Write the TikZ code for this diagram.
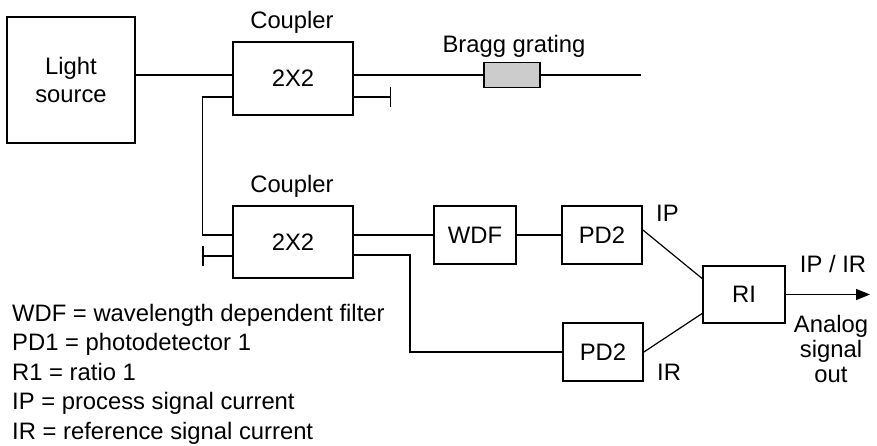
\documentclass[tikz,border=0pt]{standalone}
\usepackage{fontspec}
\setmainfont{Liberation Sans}
\usepackage{tikz}
\usetikzlibrary{arrows.meta,calc}

\begin{document}
\begin{tikzpicture}[
  x=1pt, y=-1pt,
  font=\fontsize{23.8}{28}\selectfont,
  box/.style={draw, line width=1.8pt, align=center, inner sep=0pt},
  grating/.style={draw, line width=1.8pt, fill=black!20, minimum width=56pt, minimum height=25pt, inner sep=0pt},
  wire/.style={line width=1.2pt},
  stub/.style={wire, -{Bar[width=20pt, line width=1.4pt]}},
  arr/.style={wire, -{Triangle[length=14pt, width=11pt]}},
  lbl/.style={inner sep=0pt, anchor=base},
  legend/.style={inner sep=0pt, anchor=base west}
]
\useasboundingbox (0,0) rectangle (877,446);
% source and couplers
\node[box, minimum width=128pt, minimum height=126pt] (src) at (71,80) {Light\\source};
\node[box, minimum width=120pt, minimum height=73pt] (cpl1) at (293,78.5) {2X2};
\node[box, minimum width=120pt, minimum height=72pt] (cpl2) at (293,242) {2X2};
\node[lbl] (cpl1lbl) at (292,29) {Coupler};
\node[lbl] (cpl2lbl) at (292,193) {Coupler};
% sensing fibre
\node[grating] (bragg) at (512,75) {};
\node[lbl] (bragglbl) at (514,53) {Bragg grating};
\coordinate (fibend) at (641,75);
% detection chain
\node[box, minimum width=82pt, minimum height=58pt] (wdf) at (475,235) {WDF};
\node[box, minimum width=80pt, minimum height=58pt] (pdp) at (602,235) {PD2};
\node[box, minimum width=80pt, minimum height=58pt] (pdr) at (603,352) {PD2};
\node[box, minimum width=82pt, minimum height=57pt] (ri) at (744,294.5) {RI};
\coordinate (out) at (870,294.5);
% signal labels
\node[legend] (iplbl) at (656,222) {IP};
\node[legend] (irlbl) at (657,380) {IR};
\node[lbl] (ratiolbl) at (833,272) {IP / IR};
\node[inner sep=0pt, anchor=north, align=center, font=\fontsize{23.8}{25}\selectfont] (outlbl) at (831,315) {Analog\\signal\\out};
% legend
\foreach \t [count=\i] in {{WDF = wavelength dependent filter},{PD1 = photodetector 1},{R1 = ratio 1},{IP = process signal current},{IR = reference signal current}}
  \node[legend] (leg\i) at (12,{291.5+29.5*\i}) {\t};
% connectors
\draw[wire] ([yshift=5pt]src.east) -- ([yshift=3.5pt]cpl1.west);
\draw[wire] ([yshift=-18.5pt]cpl1.west) -- ++(-30,0) |- ([yshift=7pt]cpl2.west);
\draw[wire] ([yshift=3.5pt]cpl1.east) -- (bragg.west);
\draw[wire] (bragg.east) -- (fibend);
\draw[stub] ([yshift=-18.5pt]cpl1.east) -- ++(37,0);
\draw[stub] ([yshift=-14pt]cpl2.west) -- ++(-30,0);
\draw[wire] ([yshift=7pt]cpl2.east) -- (wdf.west);
\draw[wire] (wdf) -- (pdp);
\draw[wire] ([yshift=-13pt]cpl2.east) -- ++(56,0) |- (pdr.west);
\draw[wire] ([yshift=5pt]pdp.east) -- ([yshift=16pt]ri.west);
\draw[wire] (pdr.east) -- ([yshift=-19pt]ri.west);
\draw[arr] (ri) -- (out);
\end{tikzpicture}
\end{document}
